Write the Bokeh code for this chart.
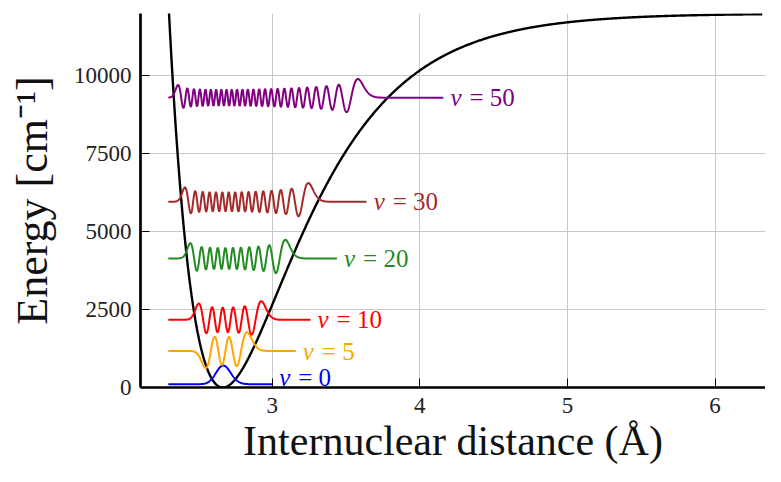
import numpy as np
from bokeh.plotting import figure
from bokeh.models import ColumnDataSource, FixedTicker
from bokeh.embed import file_html
from bokeh.resources import INLINE
from bokeh.core.properties import value

# ---- data ----
levels = [0, 5, 10, 20, 30, 50]
level_energy = [105, 1171, 2170, 4140, 5959, 9298]          # cm^-1, where each level is drawn
level_x_end = [3.00, 3.16, 3.26, 3.44, 3.64, 4.16]           # Å, right end of each level line
level_colors = ["#0000ff", "#ffa500", "#ff0000", "#228b22", "#a52a2a", "#800080"]
level_rest = ["= 0", "= 5", "= 10", "= 20", "= 30", "= 50"]
label_lift_px = [7, 0, 0, 0, 0, 0]                           # v = 0 label sits a little higher
wf_x_start = 2.296
wf_amplitude = 600.0

# Morse potential of I2 (as drawn)
morse_De = 12000.0      # cm^-1
morse_a = 1.9           # 1/Å
morse_re = 2.666        # Å
reduced_mass = 63.45    # amu
curve_x_range = (2.25, 6.32)

x_ticks = [3, 4, 5, 6]
y_ticks = [0, 2500, 5000, 7500, 10000]

FONT = "Liberation Serif"


def morse(r):
    return morse_De * (1.0 - np.exp(-morse_a * (r - morse_re))) ** 2


# vibrational eigenfunctions of the drawn potential (finite differences)
B = 16.8576 / reduced_mass          # hbar^2/(2 mu) in cm^-1 Å^2
r = np.linspace(1.9, 5.0, 1800)
dr = r[1] - r[0]
H = np.diag(2 * B / dr**2 + morse(r)) \
    + np.diag(np.full(len(r) - 1, -B / dr**2), 1) \
    + np.diag(np.full(len(r) - 1, -B / dr**2), -1)
evals, evecs = np.linalg.eigh(H)

p = figure(width=765, height=466, x_range=(2.108, 6.342), y_range=(0, 12000),
           output_backend="svg", toolbar_location=None,
           min_border_left=140, min_border_right=0, min_border_top=13, min_border_bottom=77)
p.outline_line_color = None
p.background_fill_color = "white"
p.border_fill_color = "white"

# grid
p.xgrid.ticker = FixedTicker(ticks=x_ticks)
p.ygrid.ticker = FixedTicker(ticks=y_ticks)
for g in (p.xgrid, p.ygrid):
    g.grid_line_color = "#c8c8c8"
    g.grid_line_width = 1

# axes
p.xaxis.ticker = FixedTicker(ticks=x_ticks)
p.yaxis.ticker = FixedTicker(ticks=y_ticks)
for ax in (p.xaxis, p.yaxis):
    ax.axis_line_width = 2.7
    ax.axis_line_color = "black"
    ax.major_tick_in = 9
    ax.major_tick_out = 0
    ax.minor_tick_in = 0
    ax.minor_tick_out = 0
    ax.major_tick_line_color = "black"
    ax.major_tick_line_width = 1
    ax.major_label_text_font = FONT
    ax.major_label_text_font_size = "23px"
    ax.major_label_text_color = "#222222"
    ax.axis_label_text_font = FONT
    ax.axis_label_text_font_style = "normal"
    ax.axis_label_text_color = "#111111"
p.xaxis.major_label_standoff = 10
p.yaxis.major_label_standoff = 9
p.xaxis.axis_label = "Internuclear distance (Å)"
p.xaxis.axis_label_text_font_size = "42px"
p.xaxis.axis_label_standoff = 2
p.yaxis.axis_label = "Energy [cm⁻¹]"
p.yaxis.axis_label_text_font_size = "44px"
p.yaxis.axis_label_standoff = 14

# potential curve
rc = np.linspace(curve_x_range[0], curve_x_range[1], 900)
p.line(rc, morse(rc), line_color="black", line_width=2.4)

# wavefunctions
for i, v in enumerate(levels):
    psi = evecs[:, v].copy()
    psi /= np.abs(psi).max()
    idx = np.where(np.abs(psi) > 0.5)[0][-1]
    if psi[idx] < 0:
        psi = -psi
    m = (r >= wf_x_start) & (r <= level_x_end[i])
    p.line(r[m], level_energy[i] + wf_amplitude * psi[m],
           line_color=level_colors[i], line_width=2)

src = ColumnDataSource(dict(x=level_x_end, y=level_energy, c=level_colors,
                            v=["v"] * len(levels), rest=level_rest,
                            dy=[-d for d in label_lift_px]))
p.text(x="x", y="y", text="v", source=src, x_offset=7, y_offset="dy", text_color="c",
       text_font=value(FONT), text_font_style="italic", text_font_size="25px",
       text_baseline="middle", text_align="left")
p.text(x="x", y="y", text="rest", source=src, x_offset=26, y_offset="dy", text_color="c",
       text_font=value(FONT), text_font_size="25px",
       text_baseline="middle", text_align="left")

open("out.html", "w").write(file_html(p, INLINE))
